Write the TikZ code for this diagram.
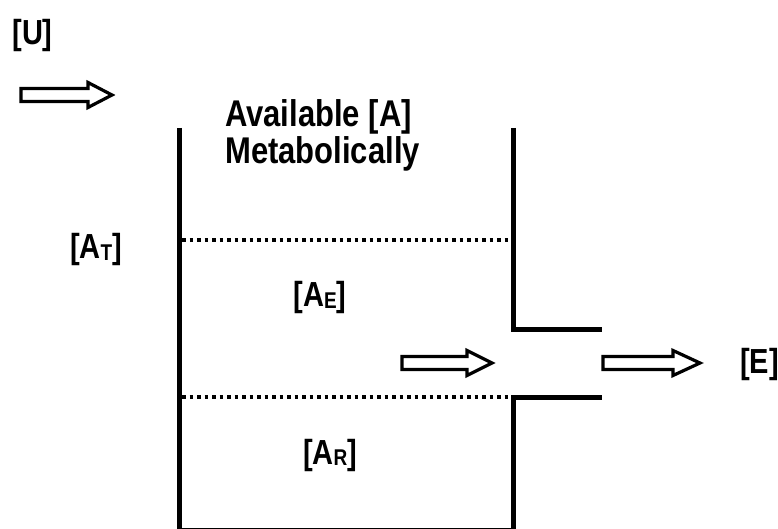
\documentclass[tikz,border=0pt]{standalone}
\usepackage{fontspec}
\setmainfont{Liberation Sans}
\newcommand\subsm[1]{\raisebox{-1pt}{\fontsize{19}{19}\selectfont #1}}
\newcommand\tallt[1]{\scalebox{1}[1.2]{#1}}
\newcommand\hollowarrow[4]{%
  \draw[arrowline] (#1,#4-6.5) -- (#2,#4-6.5) -- (#2,#4-12.5) -- (#3,#4) -- (#2,#4+12.5) -- (#2,#4+6.5) -- (#1,#4+6.5) -- cycle;}
\begin{document}
\begin{tikzpicture}[x=1pt,y=-1pt,
  wall/.style={line width=5pt,line cap=butt,line join=miter},
  dotline/.style={line width=3.5pt,dash pattern=on 3.5pt off 4pt},
  arrowline/.style={line width=3.2pt,line join=miter,fill=white},
  lbl/.style={inner sep=0pt,font=\fontsize{29}{29}\selectfont\bfseries},
  big/.style={inner sep=0pt,anchor=base west,font=\fontsize{31}{31}\selectfont\bfseries}]
\useasboundingbox (0,0) rectangle (778,529);
% container
\coordinate (tl) at (179,128);
\coordinate (bl) at (179,530);
\coordinate (br) at (513,530);
\coordinate (tr) at (513,128);
\coordinate (ul) at (513,329);
\coordinate (ur) at (602,329);
\coordinate (ll) at (513,397);
\coordinate (lr) at (602,397);
\draw[wall] (tl) -- (bl) -- (br) -- (ll) -- (lr);
\draw[wall] (tr) -- (ul) -- (ur);
% dotted levels
\coordinate (d1a) at (182,240); \coordinate (d1b) at (510,240);
\coordinate (d2a) at (182,397); \coordinate (d2b) at (510,397);
\draw[dotline] (d1a) -- (d1b);
\draw[dotline] (d2a) -- (d2b);
% arrows
\hollowarrow{21}{88}{112}{95}
\hollowarrow{402}{467}{492}{363}
\hollowarrow{603}{673}{700}{363}
% labels
\node[lbl] (u) at (32.5,36) {\tallt{[U]}};
\node[lbl] (at) at (96,250) {\tallt{[A\subsm{T}]}};
\node[lbl] (ae) at (320,298) {\tallt{[A\subsm{E}]}};
\node[lbl] (ar) at (330,455) {\tallt{[A\subsm{R}]}};
\node[lbl] (e) at (759.5,364) {\tallt{[E]}};
\node[big] (av) at (225,127) {\tallt{Available [A]}};
\node[big] (mb) at (225,164) {\tallt{Metabolically}};
\end{tikzpicture}
\end{document}
